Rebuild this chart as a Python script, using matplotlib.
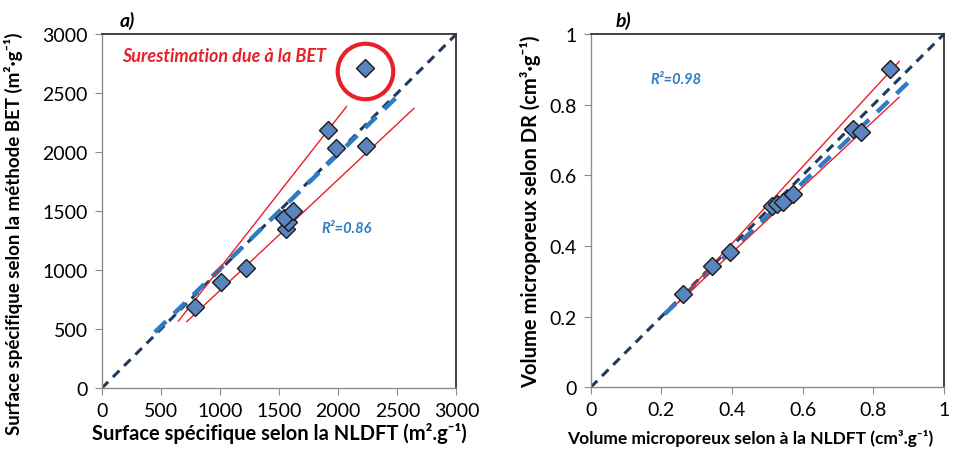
import numpy as np
import matplotlib as mpl
mpl.use('agg')
import matplotlib.pyplot as plt

plt.rcParams['font.family'] = ['Lato', 'DejaVu Sans']

# a) surface specifique
nldft_surf = [790, 1010, 1220, 1560, 1575, 1540, 1615, 1915, 1980, 2235, 2225]
bet_surf = [690, 900, 1015, 1350, 1410, 1440, 1500, 2190, 2035, 2048, 2710]
surf_up_x = [650, 2070]
surf_up_y = [570, 2385]
surf_lo_x = [720, 2640]
surf_lo_y = [565, 2370]
surf_fit_x = [450, 2535]
surf_fit_y = [475, 2505]
outlier = (2225, 2690)

# b) volume microporeux
nldft_vol = [0.26, 0.342, 0.394, 0.512, 0.526, 0.545, 0.573, 0.743, 0.765, 0.847]
dr_vol = [0.264, 0.344, 0.382, 0.514, 0.519, 0.524, 0.547, 0.731, 0.722, 0.901]
vol_up_x = [0.243, 0.873]
vol_up_y = [0.236, 0.922]
vol_lo_x = [0.248, 0.873]
vol_lo_y = [0.24, 0.821]
vol_fit_x = [0.209, 0.904]
vol_fit_y = [0.207, 0.868]

navy = '#1f3a5f'
blue = '#2e7cc4'
red = '#e8202a'
marker_face = '#5a84c0'

fig = plt.figure(figsize=(9.59, 4.52), dpi=100)
ax_a = fig.add_axes((0.106, 0.1387, 0.370, 0.784))
ax_b = fig.add_axes((0.616, 0.141, 0.3684, 0.7816))


def style_axes(ax, lim, ticks):
    ax.set_xlim(0, lim)
    ax.set_ylim(0, lim)
    ax.set_xticks(ticks)
    ax.set_yticks(ticks)
    for side in ['left', 'bottom']:
        ax.spines[side].set_color('#8c8c8c')
        ax.spines[side].set_linewidth(1.0)
    for side in ['top', 'right']:
        ax.spines[side].set_color('#333333')
        ax.spines[side].set_linewidth(1.3)
    ax.tick_params(direction='out', length=5, color='#8c8c8c', labelsize=14, pad=5)


# panel a
ax = ax_a
ax.plot([0, 3000], [0, 3000], color=navy, lw=2.2, ls=(0, (3, 2.2)), zorder=2)
ax.plot(surf_fit_x, surf_fit_y, color=blue, lw=3.2, ls=(0, (3.5, 2.5)), zorder=2)
ax.plot(surf_up_x, surf_up_y, color=red, lw=1.0, zorder=3)
ax.plot(surf_lo_x, surf_lo_y, color=red, lw=1.0, zorder=3)
ax.plot(nldft_surf, bet_surf, ls='none', marker='D', ms=9, mfc=marker_face,
        mec='#1a1a1a', mew=1.0, zorder=4)
ax.plot([outlier[0]], [outlier[1]], ls='none', marker='o', ms=40, mfc='none',
        mec=red, mew=3.0, zorder=5, clip_on=False)
ax.text(170, 2820, 'Surestimation due à la BET', color=red, fontsize=13,
        fontweight='bold', fontstyle='italic', va='center')
ax.text(1860, 1360, 'R²=0.86', color=blue, fontsize=10.5, fontweight='bold',
        fontstyle='italic', va='center')
style_axes(ax, 3000, [0, 500, 1000, 1500, 2000, 2500, 3000])
ax.set_xlabel('Surface spécifique selon la NLDFT (m².g⁻¹)', fontsize=14.5,
              fontweight='bold', labelpad=2)
ax.set_ylabel('Surface spécifique selon la méthode BET (m²·g⁻¹)', fontsize=13.5,
              fontweight='bold')
ax.yaxis.set_label_coords(-0.222, 0.44)
ax.text(0.05, 1.015, 'a)', transform=ax.transAxes, fontsize=14, fontweight='bold',
        fontstyle='italic', va='bottom')

# panel b
ax = ax_b
ax.plot([0, 1], [0, 1], color=navy, lw=2.2, ls=(0, (3, 2.2)), zorder=2)
ax.plot(vol_fit_x, vol_fit_y, color=blue, lw=3.2, ls=(0, (3.5, 2.5)), zorder=2)
ax.plot(vol_up_x, vol_up_y, color=red, lw=1.0, zorder=3)
ax.plot(vol_lo_x, vol_lo_y, color=red, lw=1.0, zorder=3)
ax.plot(nldft_vol, dr_vol, ls='none', marker='D', ms=9, mfc=marker_face,
        mec='#1a1a1a', mew=1.0, zorder=4)
ax.text(0.168, 0.872, 'R²=0.98', color=blue, fontsize=10.5, fontweight='bold',
        fontstyle='italic', va='center')
style_axes(ax, 1, [0, 0.2, 0.4, 0.6, 0.8, 1])
ax.set_xticklabels(['0', '0.2', '0.4', '0.6', '0.8', '1'])
ax.set_yticklabels(['0', '0.2', '0.4', '0.6', '0.8', '1'])
ax.set_xlabel('Volume microporeux selon à la NLDFT (cm³.g⁻¹)', fontsize=12.5,
              fontweight='bold')
ax.xaxis.set_label_coords(0.452, -0.118)
ax.set_ylabel('Volume microporeux selon DR (cm³·g⁻¹)', fontsize=14.5,
              fontweight='bold', labelpad=6)
ax.text(0.07, 1.015, 'b)', transform=ax.transAxes, fontsize=14, fontweight='bold',
        fontstyle='italic', va='bottom')

plt.savefig('out.png', dpi=100)
